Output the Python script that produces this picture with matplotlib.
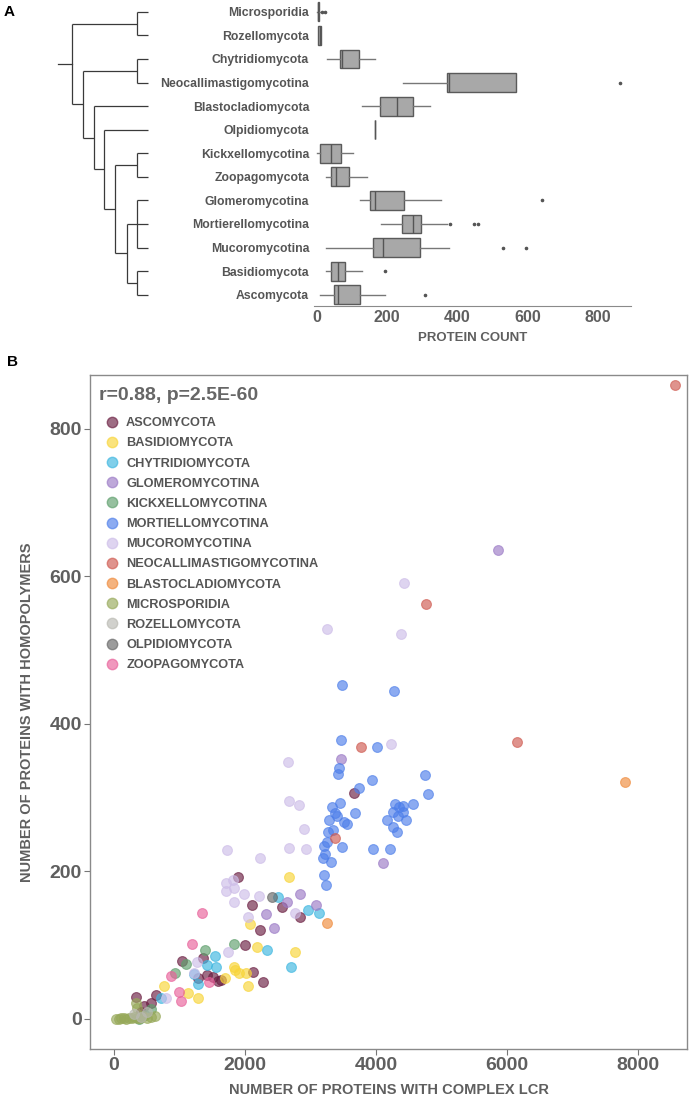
import matplotlib
matplotlib.use("Agg")
import matplotlib.pyplot as plt
from matplotlib.lines import Line2D
from matplotlib import font_manager

plt.rcParams['font.family'] = ['Liberation Sans', 'DejaVu Sans']

# ---------------- Panel A data ----------------
clades = ["Microsporidia", "Rozellomycota", "Chytridiomycota", "Neocallimastigomycotina",
          "Blastocladiomycota", "Olpidiomycota", "Kickxellomycotina", "Zoopagomycota",
          "Glomeromycotina", "Mortierellomycotina", "Mucoromycotina", "Basidiomycota",
          "Ascomycota"]
box_whislo = [0, 2, 28, 246, 129, 164, 0, 24, 123, 181, 26, 24, 9]
box_q1     = [1, 3, 64, 371, 178, 164, 9, 38, 152, 243, 159, 38, 49]
box_med    = [2, 7, 70, 375, 227, 164, 38, 53, 165, 273, 189, 59, 58]
box_q3     = [5, 11, 118, 568, 273, 164, 69, 92, 248, 295, 292, 80, 122]
box_whishi = [7, 11, 166, 568, 322, 164, 103, 142, 354, 371, 376, 129, 193]
box_fliers = [[15, 22], [], [], [864], [], [], [], [], [642], [380, 448, 458], [530, 596], [193], [308]]
box_ticks = [0, 200, 400, 600, 800]

# tree topology (leaves are indices into clades), node depth in pixels
tree = ("n1", [("nMR", [0, 1]),
               ("n2", [("nCN", [2, 3]),
                       ("n3", [4,
                               ("n4", [5,
                                       ("n5", [("nKZ", [6, 7]),
                                               ("n6", [("nGMM", [8, 9, 10]),
                                                       ("nBA", [11, 12])])])])])])])
node_depth = {"n1": 71.6, "n2": 82.6, "n3": 93.6, "n4": 104.1, "n5": 115.1, "n6": 126.5,
              "nMR": 136.7, "nCN": 136.7, "nKZ": 136.7, "nGMM": 136.7, "nBA": 136.7}

# ---------------- Panel B data ----------------
groups = ["ASCOMYCOTA", "BASIDIOMYCOTA", "CHYTRIDIOMYCOTA", "GLOMEROMYCOTINA",
          "KICKXELLOMYCOTINA", "MORTIELLOMYCOTINA", "MUCOROMYCOTINA",
          "NEOCALLIMASTIGOMYCOTINA", "BLASTOCLADIOMYCOTA", "MICROSPORIDIA",
          "ROZELLOMYCOTA", "OLPIDIOMYCOTA", "ZOOPAGOMYCOTA"]
colors = ["#6b1f42", "#f8d438", "#3cb6e0", "#9b7ac6", "#5e9f6c", "#4e7fea", "#cdbde8",
          "#cf5a50", "#ef8a3a", "#97a95a", "#b9b9b2", "#666666", "#e8619a"]

asco_x = [3664, 1898, 2107, 2565, 2835, 2224, 2005, 1364, 1043, 2122, 1415, 1507, 1583, 1634,
          1288, 2275, 646, 331, 463, 560, 420]
asco_y = [307, 193, 154, 152, 138, 121, 100, 83, 79, 64, 59, 57, 52, 53, 56, 50, 33, 30, 18, 21, 9]
basid_x = [2677, 2081, 2183, 2763, 1827, 1852, 1913, 2015, 1690, 2041, 768, 1135, 1288]
basid_y = [193, 129, 98, 91, 71, 67, 63, 62, 56, 45, 45, 35, 29]
chytr_x = [2509, 2962, 3130, 2331, 1547, 1415, 1557, 2697, 1226, 1282, 718]
chytr_y = [165, 148, 144, 93, 85, 73, 70, 70, 61, 47, 28]
glom_x = [5863, 3471, 4102, 2845, 2636, 3079, 2316, 2438]
glom_y = [636, 352, 212, 169, 159, 155, 142, 124]
kick_x = [1827, 1389, 1094, 936, 560, 470, 380]
kick_y = [102, 93, 74, 62, 13, 5, 0]
mort_x = [3481, 4275, 3461, 4010, 3430, 3420, 4753, 3939, 3740, 4789, 3455, 3333, 3374, 3405,
          3679, 3282, 3507, 3562, 3262, 3349, 3247, 3206, 3226, 3186, 3318, 3481, 3959, 4218,
          3206, 3241, 4285, 4346, 4412, 4570, 4260, 4417, 4336, 4458, 4163, 4265, 4321]
mort_y = [453, 444, 378, 369, 340, 332, 331, 324, 313, 305, 293, 288, 279, 275,
          279, 270, 267, 264, 253, 256, 240, 235, 224, 218, 213, 233, 230, 230,
          195, 181, 291, 288, 289, 291, 281, 281, 275, 270, 270, 260, 253]
muco_x = [4429, 3257, 4387, 4224, 2652, 2672, 2824, 2906, 2667, 2931, 1720, 2229, 1821, 1705,
          1837, 1705, 1989, 2214, 1837, 2763, 2046, 1740, 1262, 1221, 790]
muco_y = [591, 528, 522, 373, 348, 295, 290, 258, 232, 230, 229, 218, 189, 184,
          178, 174, 169, 167, 159, 144, 138, 91, 77, 62, 28]
neo_x = [8565, 4758, 6153, 3776, 3369]
neo_y = [860, 562, 375, 369, 245]
blast_x = [7797, 3257]
blast_y = [321, 130]
micro_x = [30, 70, 110, 150, 190, 230, 270, 310, 350, 400, 450, 500, 560, 630, 335, 345]
micro_y = [0, 0, 1, 2, 0, 2, 1, 3, 1, 2, 4, 2, 3, 4, 22, 15]
roz_x = [420, 500, 300]
roz_y = [3, 10, 7]
olp_x = [2412]
olp_y = [165]
zoo_x = [1349, 1191, 875, 1446, 992, 1018]
zoo_y = [144, 102, 58, 50, 37, 25]

series_x = [asco_x, basid_x, chytr_x, glom_x, kick_x, mort_x, muco_x, neo_x, blast_x,
            micro_x, roz_x, olp_x, zoo_x]
series_y = [asco_y, basid_y, chytr_y, glom_y, kick_y, mort_y, muco_y, neo_y, blast_y,
            micro_y, roz_y, olp_y, zoo_y]
scatter_xticks = [0, 2000, 4000, 6000, 8000]
scatter_yticks = [0, 200, 400, 600, 800]
stat_text = "r=0.88, p=2.5E-60"

# font for row labels (condensed if available)
available = {f.name for f in font_manager.fontManager.ttflist}
if "Liberation Sans Narrow" in available:
    label_family, label_size = "Liberation Sans Narrow", 10.2
else:
    label_family, label_size = "Liberation Sans", 8.8

# ---------------- Figure ----------------
W, H = 689, 1096
fig = plt.figure(figsize=(W / 100, H / 100), dpi=100)
grey_txt = "#5f5f5f"

# Panel A boxplot axes
axA = fig.add_axes([314 / W, 1 - 306 / H, (630.5 - 314) / W, 306 / H])
stats = []
for i in range(len(clades)):
    stats.append(dict(whislo=box_whislo[i], q1=box_q1[i], med=box_med[i], q3=box_q3[i],
                      whishi=box_whishi[i], fliers=box_fliers[i], label=clades[i]))
axA.bxp(stats, positions=list(range(len(clades))), vert=False, widths=0.8,
        patch_artist=True, showcaps=False,
        boxprops=dict(facecolor="#a8a8a8", edgecolor="#5a5a5a", linewidth=1.0),
        medianprops=dict(color="#555555", linewidth=1.0),
        whiskerprops=dict(color="#777777", linewidth=1.0),
        flierprops=dict(marker="o", markersize=1.6, markerfacecolor="#555555",
                        markeredgecolor="#555555"))
axA.set_ylim(12.48, -0.5)
axA.set_xlim(-9.1, 893.9)
axA.set_yticks(range(len(clades)))
axA.set_yticklabels(clades, fontsize=label_size, fontweight="bold", color="#555555",
                    family=label_family)
axA.tick_params(axis="y", length=0, pad=3.5)
axA.set_xticks(box_ticks)
axA.set_xticklabels([str(t) for t in box_ticks], fontsize=11.5, fontweight="bold", color=grey_txt)
axA.tick_params(axis="x", length=0, pad=3)
for s in ["top", "right", "left"]:
    axA.spines[s].set_visible(False)
axA.spines["bottom"].set_color("#8a8a8a")
axA.set_xlabel("PROTEIN COUNT", fontsize=9.5, fontweight="bold", color=grey_txt, labelpad=5)

# overlay axes in pixel coordinates for tree and panel letters
ov = fig.add_axes([0, 0, 1, 1], zorder=-1)
ov.set_xlim(0, W)
ov.set_ylim(H, 0)
ov.axis("off")

row_px = 306 / 12.98
tip_x = 148.0


def leaf_y(i):
    return (i + 0.5) * row_px


def draw(node):
    if isinstance(node, int):
        return leaf_y(node), None
    name, children = node
    x = node_depth[name]
    ys = []
    for ch in children:
        cy, cx = draw(ch)
        end = tip_x if cx is None else cx
        ov.plot([x, end], [cy, cy], color="#3a3a3a", lw=0.9, solid_capstyle="butt")
        ys.append(cy)
    ov.plot([x, x], [min(ys), max(ys)], color="#3a3a3a", lw=0.9, solid_capstyle="butt")
    return (min(ys) + max(ys)) / 2, x


root_y, root_x = draw(tree)
ov.plot([58.4, root_x], [root_y, root_y], color="#3a3a3a", lw=0.9)
ov.text(9, 12, "A", fontsize=11, fontweight="bold", ha="center", va="center")
ov.text(13, 362, "B", fontsize=11, fontweight="bold", ha="center", va="center")

# Panel B scatter
axB = fig.add_axes([90 / W, 1 - 1049 / H, 597 / W, 674 / H])
handles = []
for name, col, xs, ys in zip(groups, colors, series_x, series_y):
    axB.scatter(xs, ys, s=50, color=col, alpha=0.65, edgecolors=col, linewidths=0.8, zorder=3)
    handles.append(Line2D([], [], marker="o", linestyle="none", markersize=7.5,
                          markerfacecolor=col, markeredgecolor=col, alpha=0.65, label=name))
axB.set_xlim(-366, 8748)
axB.set_ylim(-40.7, 873)
axB.set_xticks(scatter_xticks)
axB.set_yticks(scatter_yticks)
axB.set_xticklabels([str(t) for t in scatter_xticks], fontsize=14, fontweight="bold", color=grey_txt)
axB.set_yticklabels([str(t) for t in scatter_yticks], fontsize=14, fontweight="bold", color=grey_txt)
axB.tick_params(length=4, color="#777777", pad=2)
for s in axB.spines.values():
    s.set_color("#8a8a8a")
    s.set_linewidth(1.0)
axB.set_xlabel("NUMBER OF PROTEINS WITH COMPLEX LCR", fontsize=10.5, fontweight="bold",
               color=grey_txt, labelpad=6)
axB.set_ylabel("NUMBER OF PROTEINS WITH HOMOPOLYMERS", fontsize=10.5, fontweight="bold",
               color=grey_txt, labelpad=11)
axB.text(0.015, 0.970, stat_text, transform=axB.transAxes, fontsize=14, fontweight="bold",
         color="#666666", ha="left", va="center")
leg = axB.legend(handles=handles, loc="upper left", bbox_to_anchor=(0.0156, 0.945),
                 frameon=False, prop=dict(size=9.2, weight="bold"), labelspacing=0.64,
                 handletextpad=0.5, borderaxespad=0.0, handlelength=1.2)
for t in leg.get_texts():
    t.set_color("#555555")

fig.savefig("out.png", dpi=100)
